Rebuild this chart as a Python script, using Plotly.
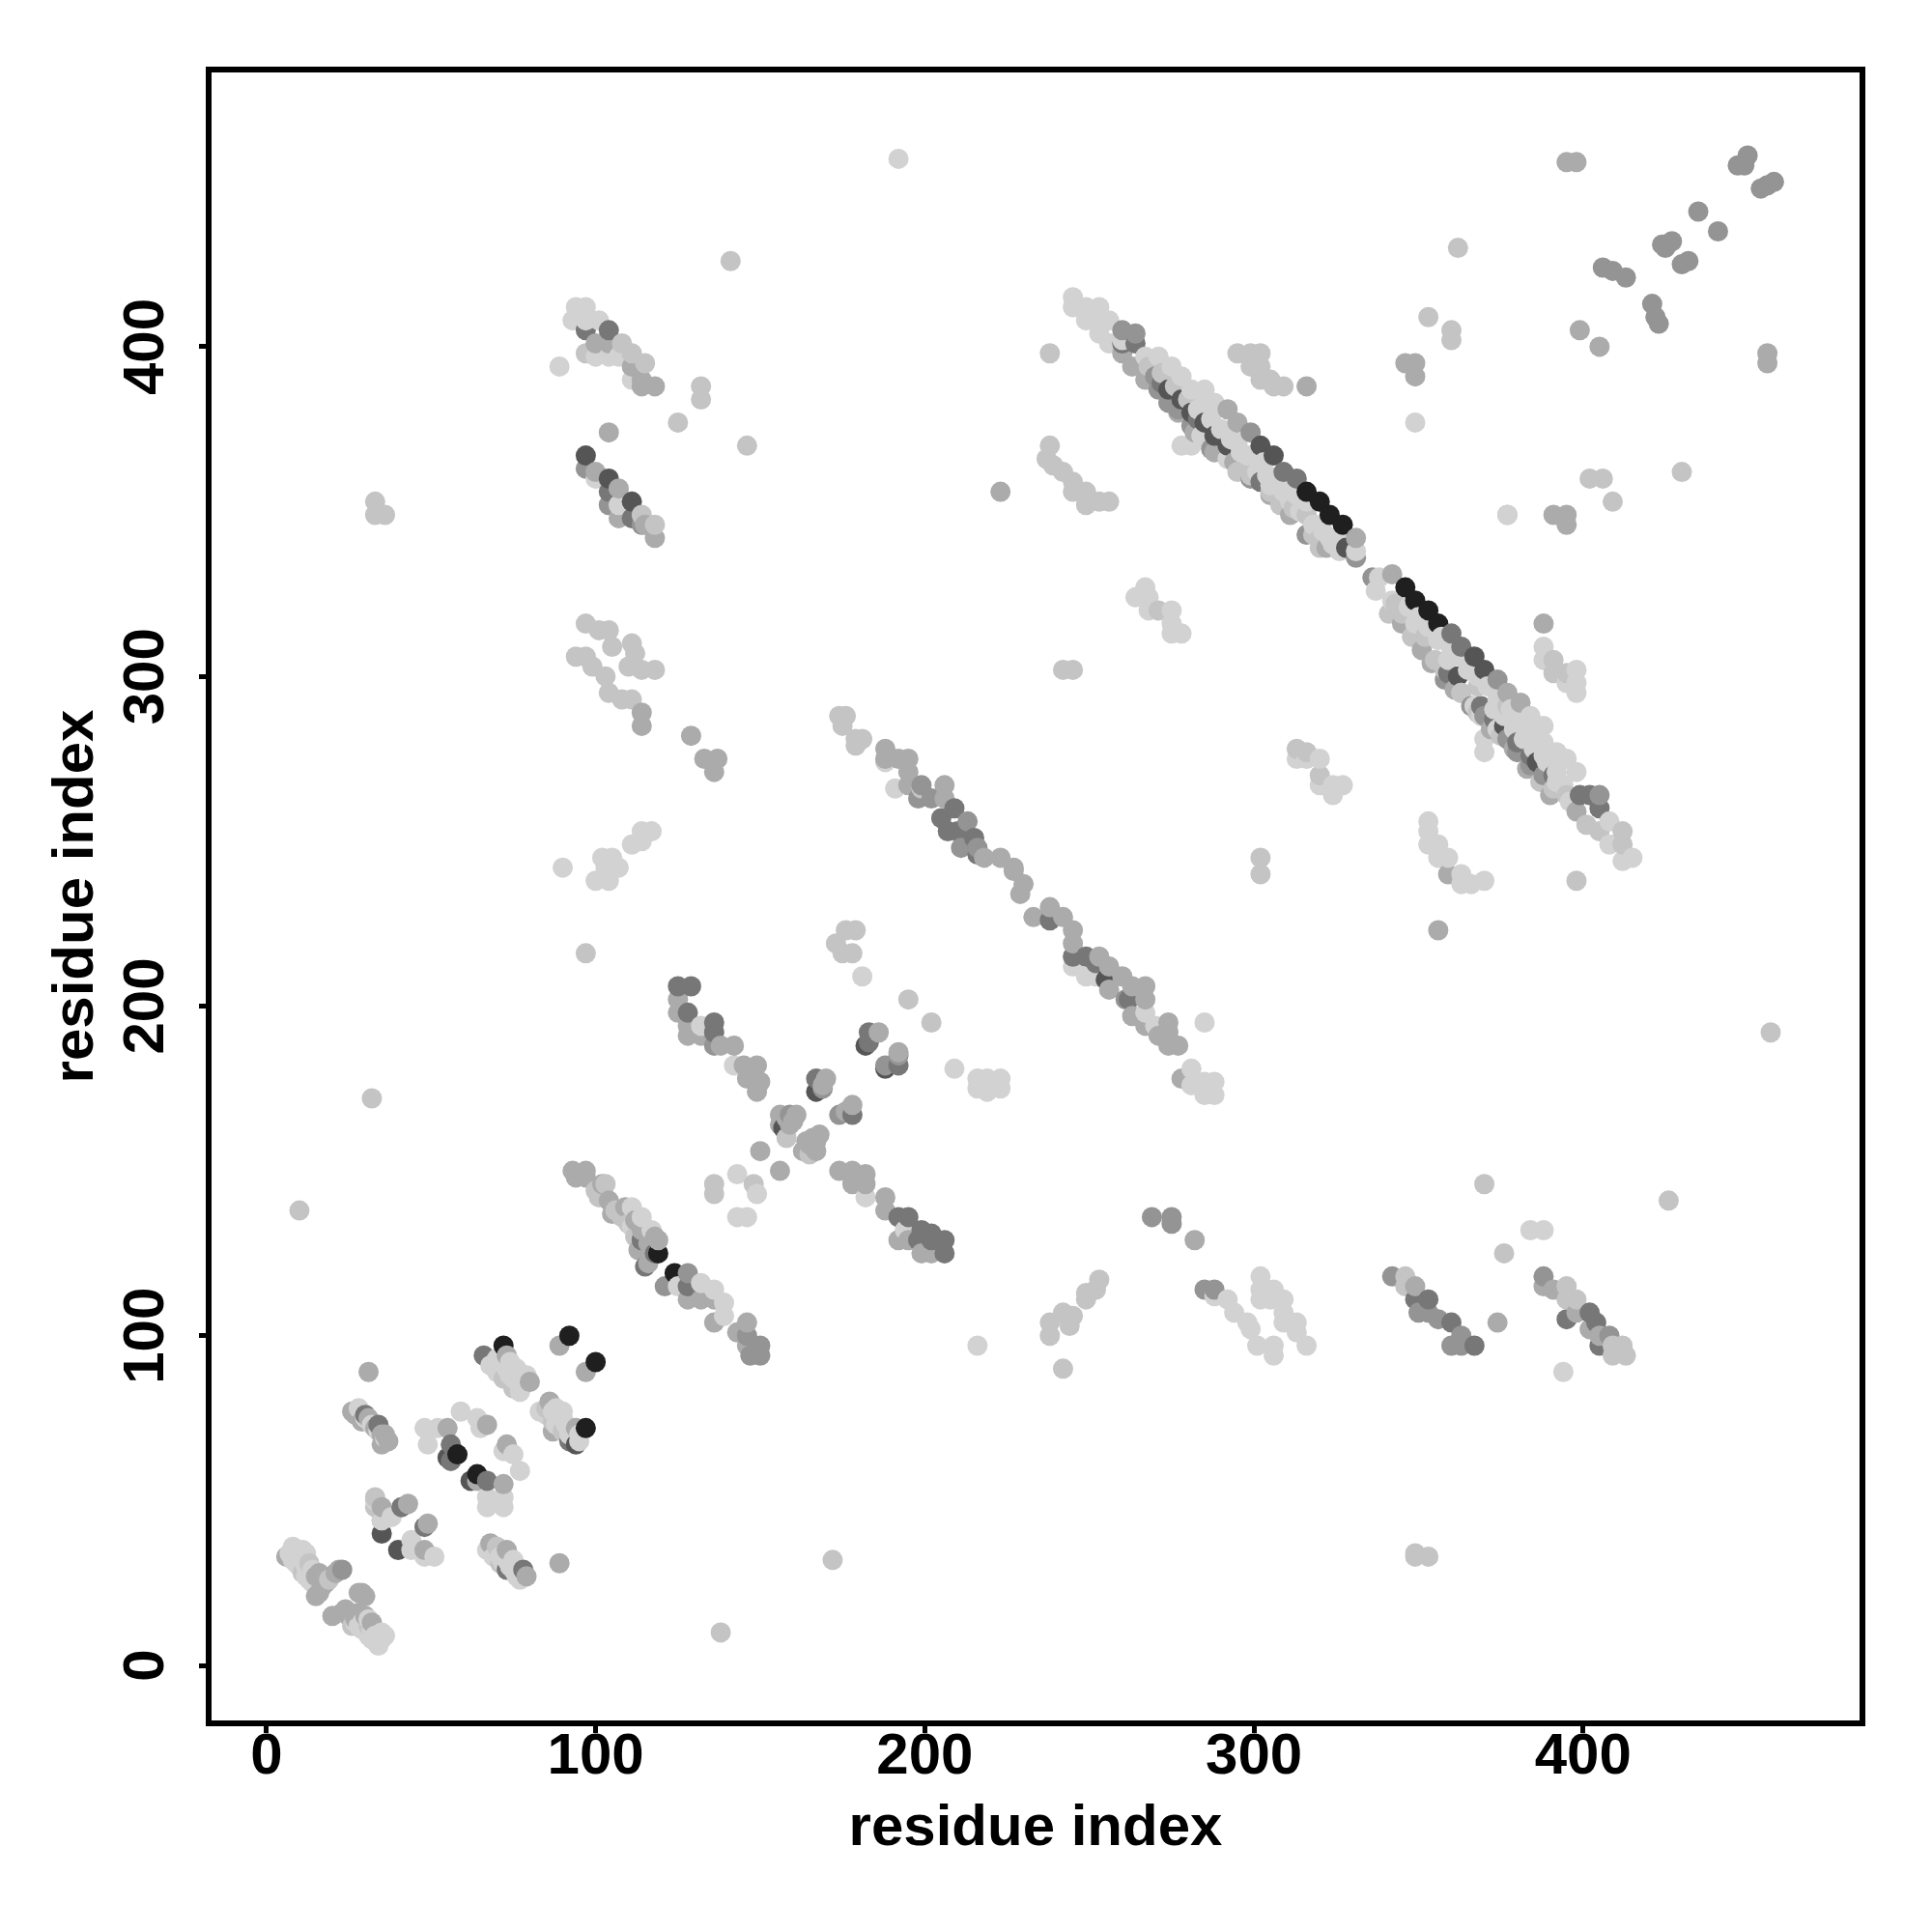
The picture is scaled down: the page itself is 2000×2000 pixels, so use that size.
import plotly.graph_objects as go

tick_values = [0, 100, 200, 300, 400]
axis_label = "residue index"

black = [(72,97),(92,100),(100,92),(97,72),(58,64),(64,58),(119,125),(124,119),(316,356),(320,353),(323,349),(327,346),(346,327),(349,323),(353,320),(356,316)]
vdark = [(35,40),(40,35),(55,63),(62,56),(94,67),(157,163),(167,174),(182,188),(188,181),(97,367),(104,360),(111,353),(302,370),(306,367),(367,306),(370,302),(255,208),(281,380),(285,377),(292,370),(274,387),(278,384),(288,373),(328,339),(362,300),(376,285),(386,274)]
dark = [(66,94),(56,67),(56,62),(67,56),(41,48),(48,42),(78,29),(73,29),(30,76),(34,73),(92,68),(125,206),(129,206),(128,198),(136,195),(136,192),(167,178),(178,167),(183,192),(183,189),(192,182),(192,136),(195,136),(199,132),(202,131),(202,129),(198,129),(206,129),(206,125),(114,129),(128,115),(104,405),(97,405),(104,356),(111,348),(245,215),(249,215),(252,213),(238,226),(260,401),(264,401),(309,362),(313,360),(302,359),(359,301),(360,313),(363,309),(399,264),(402,264),(405,260),(262,202),(349,111),(353,111),(360,104),(367,97),(395,105),(402,107),(404,104),(405,97),(391,270),(384,276),(380,280),(373,287),(369,291),(205,257),(209,260),(207,253),(210,253),(215,251),(216,246),(118,125),(115,121),(283,378),(272,389)]
gray = [(150,97),(147,94),(150,94),(121,115),(128,119),(146,100),(169,175),(159,167),(174,167),(188,182),(192,185),(136,188),(35,44),(23,29),(270,391),(271,387),(274,383),(281,376),(277,381),(287,369),(260,405),(264,404),(299,374),(331,336),(336,330),(374,299),(388,270),(384,273),(380,277),(377,281),(370,288),(405,264),(261,202),(269,136),(275,136),(275,134),(285,114),(288,114),(342,118),(350,107),(353,107),(356,105),(360,97),(363,97),(363,100),(388,118),(406,424),(409,423),(413,421),(421,413),(422,409),(423,407),(424,431),(427,432),(425,430),(430,425),(432,426),(435,441),(441,435),(447,455),(450,458),(449,455),(454,448),(458,450),(456,449),(97,363),(104,352),(114,346),(408,100),(199,267),(202,263),(198,263),(213,256),(211,248),(216,248),(299,360),(316,343),(358,299),(366,291)]
mid = [(6,33),(15,27),(16,28),(17,27),(18,25),(17,24),(15,21),(22,29),(21,28),(16,22),(20,15),(24,17),(23,16),(25,15),(28,22),(30,21),(29,22),(27,14),(28,16),(30,15),(32,13),(31,89),(89,31),(89,97),(97,89),(26,77),(28,76),(31,75),(36,70),(37,68),(35,67),(36,68),(35,48),(43,49),(49,43),(48,35),(55,72),(67,73),(73,67),(72,55),(64,56),(68,37),(73,35),(79,27),(73,94),(80,86),(86,80),(87,71),(94,72),(125,202),(125,198),(128,194),(128,191),(132,191),(138,188),(142,188),(145,182),(149,182),(146,178),(150,177),(149,174),(150,156),(156,150),(156,167),(161,167),(156,164),(159,164),(170,178),(168,161),(167,159),(163,156),(167,156),(178,170),(186,192),(192,186),(174,150),(178,150),(182,149),(178,146),(182,146),(188,142),(188,138),(192,129),(195,129),(199,125),(202,125),(119,129),(128,111),(132,111),(136,111),(136,104),(143,101),(146,104),(146,97),(93,150),(97,150),(94,148),(97,148),(102,146),(104,141),(109,139),(105,137),(112,135),(118,130),(116,122),(114,132),(227,241),(230,237),(229,234),(233,227),(238,230),(242,227),(245,223),(245,219),(253,215),(256,212),(256,205),(260,209),(263,206),(267,206),(267,202),(263,197),(267,194),(274,195),(274,192),(271,191),(274,188),(277,188),(278,178),(292,381),(295,377),(267,390),(263,394),(260,398),(331,342),(342,331),(377,295),(381,292),(398,259),(388,316),(359,240),(356,223),(223,356),(282,129),(316,388),(346,395),(349,395),(349,391),(395,456),(398,456),(399,405),(405,400),(456,398),(456,395),(391,349),(395,349),(395,346),(349,115),(374,104),(388,115),(391,114),(398,107),(402,102),(405,100),(114,289),(114,285),(129,282),(133,275),(137,275),(136,271),(104,374),(104,401),(100,401),(111,394),(114,390),(114,388),(118,388),(100,362),(107,357),(107,348),(115,346),(118,342),(188,278),(188,275),(192,275),(195,275),(195,271),(195,267),(206,267),(206,263),(218,245),(223,245),(227,242),(27,76),(29,74),(33,72),(35,70),(113,126),(116,128),(277,380),(282,374),(288,368),(294,365),(305,355),(311,349),(322,339),(345,316),(351,308),(354,304),(361,296),(372,284),(379,278),(383,272),(390,264),(158,166),(160,165),(165,158),(164,159),(166,160),(169,176),(176,168)]
pale = [(13,31),(11,28),(19,26),(26,12),(31,12),(33,51),(33,48),(70,36),(71,31),(72,87),(75,84),(85,78),(87,74),(90,71),(148,146),(158,160),(165,155),(136,146),(136,143),(173,219),(175,216),(178,216),(176,223),(179,223),(195,202),(202,195),(297,362),(295,362),(320,342),(316,349),(312,351),(305,356),(320,339),(341,319),(345,319),(352,312),(355,305),(363,295),(368,297),(377,291),(401,255),(405,253),(412,253),(412,249),(395,264),(391,266),(363,295),(391,301),(395,301),(391,305),(33,353),(33,349),(36,349),(141,426),(146,370),(97,316),(94,306),(97,306),(101,314),(104,314),(105,309),(111,310),(112,307),(110,303),(114,302),(118,302),(99,303),(103,300),(104,295),(108,293),(111,293),(32,172),(10,138),(138,10),(172,32),(349,34),(349,33),(353,33),(457,192),(360,405),(360,402),(353,409),(362,430),(402,360),(406,360),(409,353),(430,362),(377,349),(398,238),(346,118),(346,115),(395,115),(395,111),(398,111),(409,97),(412,97),(409,94),(413,94),(238,100),(238,104),(242,107),(245,106),(244,103),(242,90),(249,113),(253,117),(249,111),(252,114),(295,398),(299,398),(302,398),(302,394),(299,394),(302,390),(305,390),(306,388),(309,388),(238,398),(238,370),(237,366),(239,364),(242,362),(245,359),(245,356),(249,356),(249,352),(253,353),(256,353),(302,245),(302,240),(320,270),(316,277),(313,278),(245,302),(242,302),(271,320),(97,216),(132,388),(132,384),(125,377),(111,398),(108,401),(97,398),(115,395),(118,346),(114,349),(376,125),(370,146),(426,141),(174,288),(176,288),(175,285),(179,281),(181,281),(179,279),(199,266),(100,144),(103,146),(101,142),(106,138),(108,136),(110,134),(112,130),(268,394),(272,392),(276,388),(280,384),(299,361),(308,352),(318,343),(343,322),(348,312),(358,302),(368,289),(375,282),(387,268)]
light = [(7,34),(8,36),(9,35),(10,33),(11,35),(12,34),(9,32),(10,30),(14,29),(29,13),(31,14),(32,11),(33,9),(34,7),(36,9),(35,10),(34,6),(35,8),(28,78),(30,75),(32,73),(34,71),(36,69),(33,50),(35,44),(38,45),(44,38),(44,35),(48,33),(51,33),(48,72),(52,72),(49,67),(59,77),(64,75),(65,72),(72,65),(75,64),(77,59),(67,51),(72,51),(67,48),(72,48),(67,35),(72,33),(75,32),(76,27),(77,26),(68,91),(70,89),(74,92),(76,90),(77,83),(79,88),(83,77),(88,78),(90,77),(90,75),(95,68),(132,194),(142,182),(182,142),(194,132),(143,149),(149,143),(143,136),(146,136),(181,209),(209,181),(216,178),(223,178),(216,175),(219,174),(223,175),(219,178),(216,97),(114,136),(111,139),(111,133),(117,132),(132,116),(136,114),(139,110),(139,106),(125,115),(245,212),(249,209),(252,209),(267,198),(270,194),(285,195),(281,181),(281,176),(285,177),(288,177),(285,173),(288,173),(245,415),(245,412),(249,412),(253,412),(249,408),(253,408),(256,408),(253,404),(256,401),(260,402),(267,397),(271,397),(275,394),(278,391),(281,387),(285,387),(288,383),(285,384),(284,373),(292,366),(295,371),(298,367),(303,365),(304,361),(308,360),(309,356),(316,353),(320,346),(323,342),(326,342),(313,355),(331,338),(326,338),(338,330),(337,326),(342,323),(349,316),(356,311),(359,305),(363,306),(367,291),(373,290),(379,286),(384,288),(384,287),(388,285),(392,277),(395,275),(398,271),(378,290),(381,287),(386,280),(384,283),(388,280),(388,276),(392,271),(394,267),(374,284),(408,256),(408,249),(415,245),(412,244),(370,281),(370,277),(388,309),(388,305),(398,302),(395,298),(398,298),(398,295),(369,288),(278,370),(281,370),(313,275),(316,275),(320,275),(320,267),(324,267),(327,267),(324,264),(353,256),(353,253),(353,249),(356,249),(356,245),(359,245),(363,240),(363,237),(366,237),(370,238),(267,327),(264,324),(268,324),(268,320),(275,320),(275,316),(275,313),(278,313),(349,377),(377,349),(384,132),(388,132),(394,89),(306,94),(306,97),(301,97),(299,102),(298,104),(294,107),(292,111),(288,112),(302,118),(302,114),(306,114),(302,111),(305,111),(309,111),(309,107),(309,104),(313,104),(313,101),(316,97),(94,412),(97,412),(93,408),(97,408),(101,408),(100,397),(104,397),(107,397),(89,394),(111,390),(100,360),(107,352),(90,242),(100,238),(104,238),(102,245),(105,245),(107,242),(103,242),(111,249),(114,250),(114,253),(117,253),(192,457),(188,274),(191,266),(8,32),(9,31),(12,30),(12,27),(13,26),(14,25),(27,13),(28,12),(29,11),(30,12),(31,9),(32,8),(33,8),(69,33),(70,34),(71,33),(72,31),(73,32),(74,30),(75,29),(76,29),(77,28),(70,93),(71,92),(73,90),(74,88),(75,87),(77,86),(78,85),(85,76),(87,77),(88,76),(91,73),(92,72),(93,71),(92,70),(95,70),(88,73),(283,381),(287,378),(290,375),(293,372),(296,368),(301,362),(305,358),(311,353),(314,350),(318,346),(321,344),(324,340),(347,321),(350,318),(353,315),(357,312),(360,308),(365,302),(368,300),(371,297),(374,293),(376,288),(379,284),(382,281),(385,278),(389,274),(392,268),(396,262)]

levels = [(black, "#1f1f1f"), (vdark, "#555555"), (dark, "#777777"), (gray, "#949494"),
          (mid, "#ababab"), (pale, "#c4c4c4"), (light, "#d2d2d2")]

points = sorted((p[0], p[1], c) for pts, c in levels for p in pts)
x = [p[0] for p in points]
y = [p[1] for p in points]
colors = [p[2] for p in points]

title_font = dict(family="Liberation Sans", size=60, color="black", weight=700)
fig = go.Figure(go.Scatter(x=x, y=y, mode="markers", marker=dict(size=21, color=colors, line=dict(width=0))))
axis = dict(ticks="outside", ticklen=7, tickwidth=5, tickvals=tick_values,
            tickcolor="black", showgrid=False, zeroline=False, showline=True, linecolor="black",
            linewidth=6, mirror=True, tickfont=title_font)
fig.update_xaxes(**axis, range=[-16.7, 484.0], ticklabelstandoff=-30,
                 title=dict(text=axis_label, font=title_font, standoff=22))
fig.update_yaxes(**axis, range=[-16.7, 483.2], tickangle=-90, ticklabelstandoff=13, ticklabelshift=9,
                 title=dict(text=axis_label, font=title_font, standoff=1))
fig.update_layout(width=1984, height=1984, margin=dict(l=211, r=67, t=67, b=211, autoexpand=False),
                  paper_bgcolor="white", plot_bgcolor="white", showlegend=False)
fig.write_html("out.html")
